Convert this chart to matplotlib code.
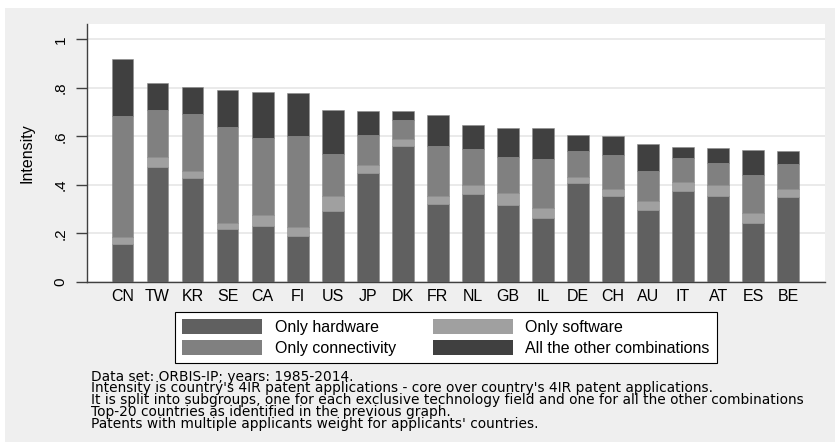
import matplotlib
matplotlib.use("Agg")
import matplotlib.pyplot as plt
from matplotlib.patches import Rectangle
import numpy as np

plt.rcParams['font.family'] = ['Liberation Sans', 'DejaVu Sans']

countries = ["CN", "TW", "KR", "SE", "CA", "FI", "US", "JP", "DK", "FR",
             "NL", "GB", "IL", "DE", "CH", "AU", "IT", "AT", "ES", "BE"]
hardware = [0.157, 0.475, 0.428, 0.220, 0.231, 0.191, 0.293, 0.450, 0.562, 0.321,
            0.361, 0.316, 0.264, 0.408, 0.353, 0.298, 0.375, 0.354, 0.242, 0.351]
software = [0.028, 0.039, 0.029, 0.024, 0.045, 0.036, 0.063, 0.033, 0.027, 0.033,
            0.040, 0.052, 0.041, 0.025, 0.032, 0.036, 0.038, 0.047, 0.042, 0.033]
connectivity = [0.499, 0.196, 0.237, 0.396, 0.316, 0.373, 0.173, 0.124, 0.077, 0.206,
                0.146, 0.146, 0.203, 0.107, 0.140, 0.125, 0.097, 0.091, 0.158, 0.101]
other = [0.234, 0.109, 0.109, 0.150, 0.191, 0.179, 0.181, 0.096, 0.037, 0.127,
         0.099, 0.121, 0.127, 0.064, 0.077, 0.108, 0.048, 0.060, 0.102, 0.053]
series_labels = ["Only hardware", "Only software", "Only connectivity", "All the other combinations"]
series_colors = ["#606060", "#a0a0a0", "#808080", "#404040"]
yticks = [0, 0.2, 0.4, 0.6, 0.8, 1.0]
ytick_labels = ["0", ".2", ".4", ".6", ".8", "1"]
notes = ["Data set: ORBIS-IP; years: 1985-2014.",
         "Intensity is country's 4IR patent applications - core over country's 4IR patent applications.",
         "It is split into subgroups, one for each exclusive technology field and one for all the other combinations",
         "Top-20 countries as identified in the previous graph.",
         "Patents with multiple applicants weight for applicants' countries."]

W, H = 835, 442
fig = plt.figure(figsize=(W / 100, H / 100), dpi=100, facecolor="white")
# gray graph region
fig.patches.append(Rectangle((5 / W, 0), 1 - 5 / W, 1 - 8 / H, transform=fig.transFigure,
                             facecolor="#efefef", edgecolor="none", zorder=-5))

ax = fig.add_axes([87 / W, 1 - 282 / H, (825 - 87) / W, (282 - 24) / H])
ax.set_facecolor("white")
x = np.arange(len(countries))
bw = 0.62
bottom = np.zeros(len(countries))
handles = []
for vals, lab, col in zip([hardware, software, connectivity, other], series_labels, series_colors):
    b = ax.bar(x, vals, bw, bottom=bottom, color=col, edgecolor="#8c8c8c", linewidth=0.4,
               label=lab, zorder=3)
    handles.append(b)
    bottom = bottom + np.array(vals)

ax.set_xlim(-1.013, 20.05)
ax.set_ylim(0, 1.063)
ax.set_yticks(yticks)
ax.set_yticklabels(ytick_labels, rotation=90, va="center", fontsize=11)
ax.set_xticks(x)
ax.set_xticklabels(countries, fontsize=11.5)
ax.tick_params(axis="x", length=0, pad=5)
ax.tick_params(axis="y", length=8, width=1, color="#404040", pad=6)
ax.grid(axis="y", color="#e6e6e6", linewidth=1.2, zorder=0)
for s in ["top", "right"]:
    ax.spines[s].set_visible(False)
for s in ["left", "bottom"]:
    ax.spines[s].set_color("#404040")
    ax.spines[s].set_linewidth(1.0)
ax.set_ylabel("Intensity", fontsize=11.5, labelpad=14)

order = [handles[0], handles[2], handles[1], handles[3]]
order_labels = [series_labels[0], series_labels[2], series_labels[1], series_labels[3]]
leg = fig.legend(order, order_labels, ncol=2, loc="upper left",
                 bbox_to_anchor=(175 / W, 1 - 312 / H), fontsize=11.5,
                 handlelength=5.0, handleheight=1.05, handletextpad=0.8,
                 columnspacing=2.3, labelspacing=0.33, borderpad=0.45,
                 borderaxespad=0, fancybox=False, framealpha=1, edgecolor="black")
leg.get_frame().set_linewidth(0.8)
for p in leg.get_patches():
    p.set_edgecolor("none")

fig.text(91 / W, 1 - 369.5 / H, "\n".join(notes), fontsize=9.9, va="top", ha="left",
         linespacing=0.806, family=["DejaVu Sans"])

fig.savefig("out.png", dpi=100, facecolor=fig.get_facecolor())
